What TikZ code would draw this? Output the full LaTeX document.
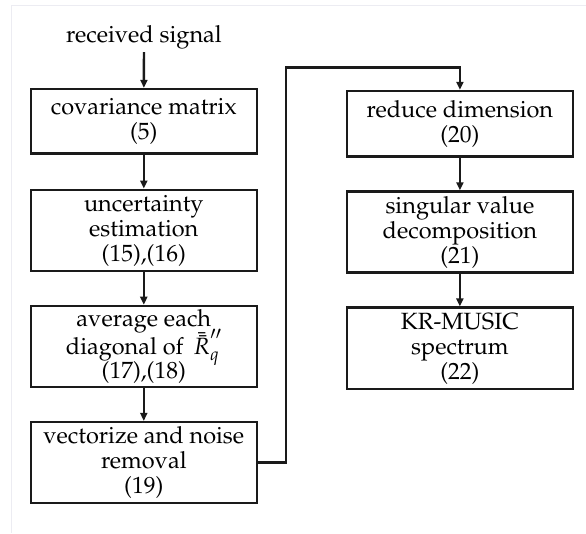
\documentclass[tikz,border=0pt]{standalone}
\usepackage[T1]{fontenc}
\usepackage{mathpazo}
\usetikzlibrary{arrows.meta}
\definecolor{cline}{HTML}{1A1A1A}
\definecolor{cframe}{HTML}{ECECF2}
\tikzset{
  every picture/.style={line width=2.4pt},
  box/.style={draw=cline, line width=2.4pt, align=center, inner sep=2pt, minimum width=226pt, font=\fontsize{23.5}{25}\selectfont},
  arrow/.style={-{Triangle[length=8pt, width=7pt]}, draw=cline, line width=2.4pt},
  signal/.style={inner sep=2pt, font=\fontsize{23.5}{25}\selectfont},
}

\begin{document}
\begin{tikzpicture}[x=1pt, y=-1pt, b/.style={box, minimum height=#1}]
  \useasboundingbox[fill=white] (0,0) rectangle (586,533);
  \draw[cframe, line width=1pt] (11,533) -- (11,5) -- (586,5);
  % left column
  \node[signal] (sig) at (144,37) {received signal};
  \node[b=64.6pt] (cov) at (143.8,121.3) {covariance matrix\\(5)};
  \node[b=81.5pt] (unc) at (143.8,230.5) {uncertainty\\estimation\\(15),(16)};
  \node[b=81pt] (avg) at (143.8,346.4) {average each\\[3pt]diagonal of~\,\smash{$\bar{\bar{R}}''_q$}\strut\\[-1pt](17),(18)};
  \node[b=81pt] (vec) at (143.8,462.6) {vectorize and noise\\removal\\(19)};
  % right column
  \node[b=65.4pt] (red) at (459.9,123.7) {reduce dimension\\(20)};
  \node[b=81pt] (svd) at (459.9,232) {singular value\\decomposition\\(21)};
  \node[b=81.6pt] (kr) at (459.9,348.4) {KR-MUSIC\\spectrum\\(22)};
  \coordinate (up) at (286,67.3);
  \draw[arrow] (sig) -- (cov);
  \draw[arrow] (cov) -- (unc);
  \draw[arrow] (unc) -- (avg);
  \draw[arrow] (avg) -- (vec);
  \draw[arrow] (vec.east) -- (up |- vec.east) -- (up) -| (red.north);
  \draw[arrow] (red) -- (svd);
  \draw[arrow] (svd) -- (kr);
\end{tikzpicture}
\end{document}
